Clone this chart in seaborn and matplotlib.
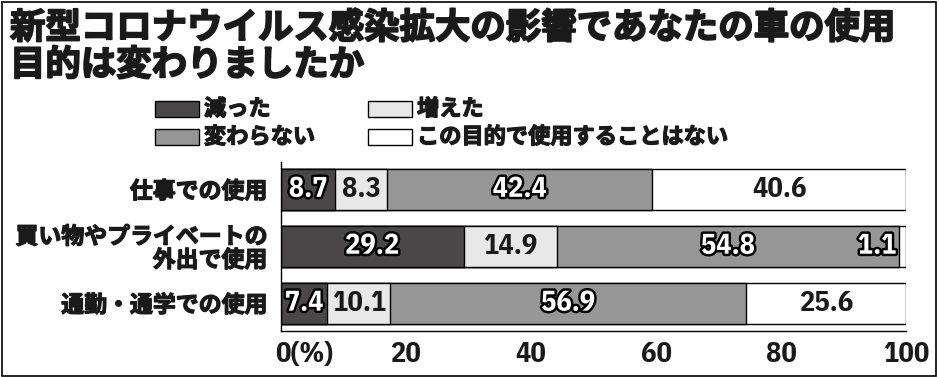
import matplotlib
matplotlib.use("Agg")
import matplotlib.pyplot as plt
import matplotlib.patheffects as pe
import matplotlib.transforms as mtransforms
from matplotlib.patches import Rectangle
import seaborn as sns
import numpy as np

sns.set_style("white")
plt.rcParams['font.family'] = ['Noto Sans CJK JP', 'DejaVu Sans']

# データ
categories = ["仕事での使用", "買い物やプライベートの\n外出で使用", "通勤・通学での使用"]
series_names = ["減った", "増えた", "変わらない", "この目的で使用することはない"]
decreased = [8.7, 29.2, 7.4]
increased = [8.3, 14.9, 10.1]
unchanged = [42.4, 54.8, 56.9]
not_used = [40.6, 1.1, 25.6]
colors = ["#4b4749", "#e8e8e8", "#969696", "#ffffff"]
xticks = [0, 20, 40, 60, 80, 100]
xticklabels = ["0(%)", "20", "40", "60", "80", "100"]

num_font = ['IBM Plex Sans Condensed', 'DejaVu Sans']
ink = "#1a1a1a"
heavy = [pe.withStroke(linewidth=0.9, foreground=ink)]

fig = plt.figure(figsize=(9.39, 3.77), dpi=100)
ax = fig.add_axes([281 / 939, 1 - 331 / 377, 625 / 939, 169 / 377])

values = np.array([decreased, increased, unchanged, not_used])
cum = values.cumsum(axis=0)

# 積み上げ棒（累積値を後ろから重ねる）
for i in range(3, -1, -1):
    sns.barplot(x=cum[i], y=categories, orient="h", color=colors[i], saturation=1,
                edgecolor="black", linewidth=1.0, width=0.72, ax=ax)

# 数値ラベル
stroke = [pe.withStroke(linewidth=3.5, foreground="black")]
for i in range(4):
    starts = cum[i] - values[i]
    for j in range(3):
        v = values[i][j]
        if v < 3:
            # 小さい値は左隣の棒の右端に
            ax.text(starts[j] - 0.4, j, f"{v:.1f}", ha="right", va="center", fontsize=20.5,
                    fontweight="bold", family=num_font, color="white", path_effects=stroke)
        elif i in (0, 2):
            ax.text(starts[j] + v / 2, j, f"{v:.1f}", ha="center", va="center", fontsize=20.5,
                    fontweight="bold", family=num_font, color="white", path_effects=stroke)
        else:
            ax.text(starts[j] + v / 2, j, f"{v:.1f}", ha="center", va="center", fontsize=20.5,
                    fontweight="bold", family=num_font, color=ink)

ax.set_xlim(0, 100)
ax.set_ylim(2.49, -0.48)
ax.set_xlabel("")
ax.set_ylabel("")
ax.set_xticks(xticks)
ax.set_xticklabels(xticklabels, fontsize=20.5, fontweight="bold", family=num_font, color=ink)
ax.tick_params(axis="x", direction="in", length=4, width=1, color="black", pad=7)
ax.tick_params(axis="y", length=0, pad=10)
for lab in ax.get_yticklabels():
    lab.set_fontsize(16.5)
    lab.set_fontweight("bold")
    lab.set_color(ink)
    lab.set_path_effects(heavy)
    lab.set_multialignment("right")
    lab.set_linespacing(1.02)
first = ax.get_xticklabels()[0]
first.set_ha("left")
first.set_transform(first.get_transform() + mtransforms.ScaledTranslation(-6 / 100, 0, fig.dpi_scale_trans))
sns.despine(ax=ax, top=True, right=True)
for s in ("left", "bottom"):
    ax.spines[s].set_color("black")
    ax.spines[s].set_linewidth(1)

# タイトル
fig.text(10 / 939, 1 - 28 / 377, "新型コロナウイルス感染拡大の影響であなたの車の使用",
         fontsize=25.5, fontweight="bold", va="center", ha="left", color=ink,
         path_effects=[pe.withStroke(linewidth=1.3, foreground=ink)])
fig.text(10 / 939, 1 - 65 / 377, "目的は変わりましたか",
         fontsize=25.5, fontweight="bold", va="center", ha="left", color=ink,
         path_effects=[pe.withStroke(linewidth=1.3, foreground=ink)])

# 凡例
legend_pos = [(155, 109), (368, 109), (155, 137), (368, 137)]
for (px, py), name, c in zip(legend_pos, series_names, colors):
    fig.patches.append(Rectangle((px / 939, 1 - (py + 8) / 377), 44 / 939, 16 / 377,
                                 transform=fig.transFigure, facecolor=c,
                                 edgecolor="black", linewidth=1))
    fig.text((px + 49) / 939, 1 - py / 377, name, fontsize=16, fontweight="bold",
             va="center", ha="left", color=ink, path_effects=heavy)

# 外枠
fig.patches.append(Rectangle((1.5 / 939, 1 - 376 / 377), 934.5 / 939, 374.5 / 377,
                             transform=fig.transFigure, fill=False,
                             edgecolor="black", linewidth=1.2))

fig.savefig("out.png", dpi=100)
